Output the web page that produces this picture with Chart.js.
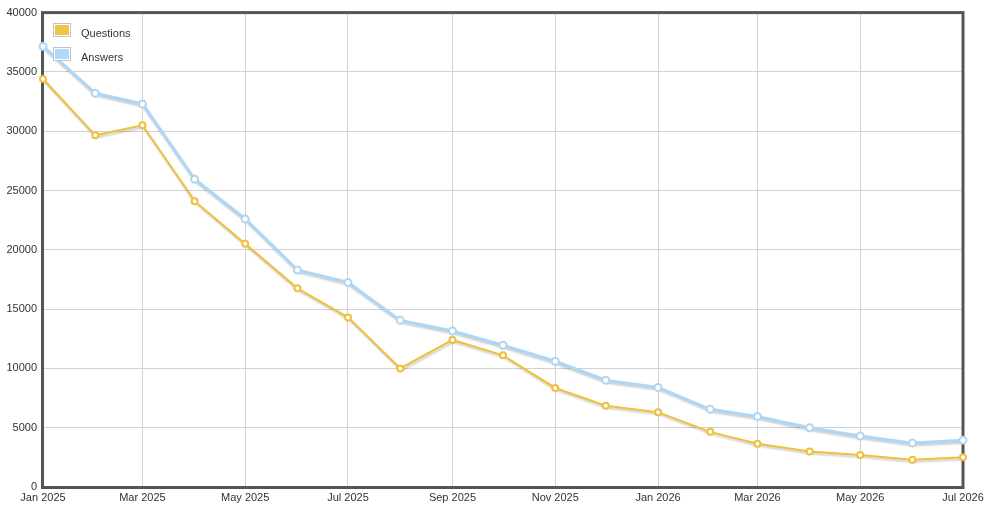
<!DOCTYPE html>
<html>
<head>
<meta charset="utf-8">
<script src="https://cdn.jsdelivr.net/npm/chart.js@4.4.1/dist/chart.umd.min.js"></script>
<style>
  html, body { margin: 0; padding: 0; background: #fff; }
  canvas { display: block; }
</style>
</head>
<body>
<canvas id="chart" width="995" height="511"></canvas>
<script>
// Monthly data points (first day of each month)
var months = ['2025-01', '2025-02', '2025-03', '2025-04', '2025-05', '2025-06', '2025-07',
    '2025-08', '2025-09', '2025-10', '2025-11', '2025-12', '2026-01', '2026-02',
    '2026-03', '2026-04', '2026-05', '2026-06', '2026-07'];
var questions = [34400, 29650, 30500, 24100, 20500, 16750, 14300, 10000, 12400, 11100,
    8350, 6850, 6300, 4650, 3650, 3000, 2700, 2300, 2500];
var answers = [37150, 33200, 32300, 25950, 22600, 18300, 17250, 14050, 13150, 11950,
    10600, 9000, 8400, 6550, 5950, 5000, 4300, 3700, 3950];

// Only every other month gets a label and a gridline
var tickMonths = ['2025-01', '2025-03', '2025-05', '2025-07', '2025-09', '2025-11',
    '2026-01', '2026-03', '2026-05', '2026-07'];
var tickLabels = ['Jan 2025', 'Mar 2025', 'May 2025', 'Jul 2025', 'Sep 2025', 'Nov 2025',
    'Jan 2026', 'Mar 2026', 'May 2026', 'Jul 2026'];
var yTicks = [0, 5000, 10000, 15000, 20000, 25000, 30000, 35000, 40000];

// Days since the first month, so the x axis behaves like a time axis
function dayOf(m) {
    var p = m.split('-');
    return (Date.UTC(+p[0], +p[1] - 1, 1) - Date.UTC(2025, 0, 1)) / 86400000;
}

function toPoints(values) {
    return values.map(function (v, i) { return { x: dayOf(months[i]), y: v }; });
}

var FONT = { family: '"Liberation Sans", Arial, sans-serif', size: 11 };

// Soft drop shadow under the lines only (not the points)
var lineDraw = Chart.LineElement.prototype.draw;
Chart.LineElement.prototype.draw = function (ctx, area) {
    ctx.save();
    ctx.shadowColor = 'rgba(0,0,0,0.2)';
    ctx.shadowBlur = 2;
    ctx.shadowOffsetX = 1;
    ctx.shadowOffsetY = 2;
    lineDraw.call(this, ctx, area);
    ctx.restore();
};

// Dark frame around the plot area, below the lines
var framePlugin = {
    id: 'frame',
    beforeDatasetsDraw: function (chart) {
        var a = chart.chartArea, ctx = chart.ctx;
        ctx.save();
        ctx.strokeStyle = '#555555';
        ctx.lineWidth = 3;
        ctx.strokeRect(a.left - 0.5, a.top, a.right - a.left + 0.5, a.bottom - a.top + 0.5);
        ctx.restore();
    }
};

// Legend inside the top-left corner of the plot
var legendPlugin = {
    id: 'innerLegend',
    afterDraw: function (chart) {
        var ctx = chart.ctx;
        ctx.save();
        chart.data.datasets.forEach(function (ds, i) {
            var top = 23 + i * 24;
            ctx.fillStyle = '#ffffff';
            ctx.fillRect(53, top, 17, 14);
            ctx.strokeStyle = '#c4c4c4';
            ctx.lineWidth = 1;
            ctx.strokeRect(53.5, top + 0.5, 17, 13);
            ctx.fillStyle = ds.legendColor;
            ctx.fillRect(55, top + 2, 14, 10);
            ctx.fillStyle = '#333333';
            ctx.font = FONT.size + 'px ' + FONT.family;
            ctx.textBaseline = 'middle';
            ctx.textAlign = 'left';
            ctx.fillText(ds.label, 81, top + 10.5);
        });
        ctx.restore();
    }
};

var chart = new Chart(document.getElementById('chart').getContext('2d'), {
    type: 'line',
    data: {
        datasets: [{
            label: 'Questions',
            data: toPoints(questions),
            borderColor: '#eec03c',
            legendColor: '#f0c444',
            borderWidth: 2,
            pointRadius: 3,
            pointBorderWidth: 2,
            pointBackgroundColor: '#ffffff',
            pointBorderColor: '#eec03c',
            tension: 0,
            clip: false
        }, {
            label: 'Answers',
            data: toPoints(answers),
            borderColor: '#aed6f5',
            legendColor: '#b0d8f8',
            borderWidth: 3,
            pointRadius: 3.5,
            pointBorderWidth: 2,
            pointBackgroundColor: '#ffffff',
            pointBorderColor: '#aed6f5',
            tension: 0,
            clip: false
        }]
    },
    options: {
        responsive: false,
        animation: false,
        devicePixelRatio: 1,
        layout: { padding: { top: 12, right: 32, left: 0, bottom: 0 } },
        plugins: {
            legend: { display: false },
            tooltip: { enabled: false }
        },
        scales: {
            x: {
                type: 'linear',
                min: dayOf(months[0]),
                max: dayOf(months[months.length - 1]),
                afterBuildTicks: function (scale) {
                    scale.ticks = tickMonths.map(function (m) { return { value: dayOf(m) }; });
                },
                afterFit: function (scale) { scale.height = 24; },
                grid: { color: '#d2d2d2', lineWidth: 1, drawTicks: false },
                border: { display: false },
                ticks: {
                    autoSkip: false,
                    maxRotation: 0,
                    padding: 4,
                    color: '#333333',
                    font: FONT,
                    callback: function (value, index) { return tickLabels[index]; }
                }
            },
            y: {
                min: 0,
                max: 40000,
                afterBuildTicks: function (scale) {
                    scale.ticks = yTicks.map(function (v) { return { value: v }; });
                },
                afterFit: function (scale) { scale.width = 43; },
                grid: { color: '#d2d2d2', lineWidth: 1, drawTicks: false },
                border: { display: false },
                ticks: {
                    padding: 6,
                    color: '#333333',
                    font: FONT,
                    callback: function (value) { return String(value); }
                }
            }
        }
    },
    plugins: [framePlugin, legendPlugin]
});
</script>
</body>
</html>
